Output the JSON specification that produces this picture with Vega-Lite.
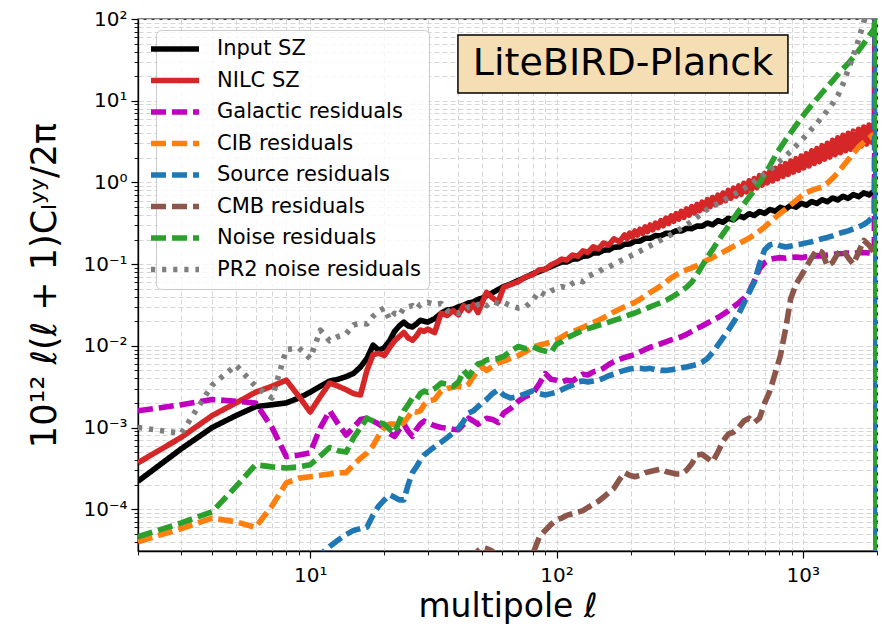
{
  "$schema": "https://vega.github.io/schema/vega-lite/v6.json",
  "width": 739,
  "height": 532,
  "autosize": {"type": "none"},
  "padding": {"left": 138, "top": 19, "right": 11, "bottom": 79},
  "background": "white",
  "config": {
    "font": "DejaVu Sans",
    "view": {"stroke": "black", "strokeWidth": 1.3},
    "axis": {
      "grid": true,
      "gridColor": "#d6d6d6",
      "gridDash": [5, 3],
      "gridWidth": 1,
      "domainColor": "black",
      "domainWidth": 1.3,
      "tickColor": "black",
      "labelFont": "DejaVu Sans",
      "labelFontSize": 20,
      "labelColor": "black",
      "labelOverlap": false,
      "labelFlush": false,
      "titleFont": "DejaVu Sans",
      "titleFontSize": 33,
      "titleFontWeight": "normal",
      "titleColor": "black"
    },
    "legend": {
      "orient": "none",
      "legendX": 18,
      "legendY": 11,
      "padding": 8,
      "fillColor": "rgba(255,255,255,0.8)",
      "strokeColor": "#cccccc",
      "cornerRadius": 5,
      "labelFont": "DejaVu Sans",
      "labelFontSize": 21,
      "labelColor": "black",
      "labelLimit": 400,
      "symbolType": "M-3,0H3",
      "symbolSize": 256,
      "labelOffset": 31,
      "rowPadding": 7.5
    }
  },
  "data": {
    "values": [
      {"l": 2, "a": 2.2e-4, "b": 3.7e-4, "g": 1.6e-3, "c": 4.0e-5, "s": 1e-6, "m": 1e-6, "n": 4.6e-5, "p": 1.0e-3},
      {"l": 3, "a": 5.5e-4, "b": 7.6e-4, "g": 1.9e-3, "c": 5.8e-5, "s": 1e-6, "m": 1e-6, "n": 6.8e-5, "p": 8.5e-4},
      {"l": 4, "a": 1.0e-3, "b": 1.4e-3, "g": 2.2e-3, "c": 7.8e-5, "s": 1e-6, "m": 1e-6, "n": 9.3e-5, "p": 3.3e-3},
      {"l": 5, "a": 1.4e-3, "b": 2.0e-3, "g": 2.1e-3, "c": 7.0e-5, "s": 1e-6, "m": 1e-6, "n": 1.9e-4, "p": 5.8e-3},
      {"l": 6, "a": 1.8e-3, "b": 2.7e-3, "g": 2.0e-3, "c": 6.0e-5, "s": 1e-6, "m": 1e-6, "n": 3.5e-4, "p": 3.2e-3},
      {"l": 7, "a": 1.9e-3, "b": 3.2e-3, "g": 1.0e-3, "c": 1.1e-4, "s": 1e-6, "m": 1e-6, "n": 3.3e-4, "p": 2.3e-3},
      {"l": 8, "a": 2.0e-3, "b": 3.8e-3, "g": 4.4e-4, "c": 2.1e-4, "s": 1e-6, "m": 1e-6, "n": 3.2e-4, "p": 9.0e-3},
      {"l": 9, "a": 2.3e-3, "b": 2.4e-3, "g": 4.6e-4, "c": 2.4e-4, "s": 1e-6, "m": 1e-6, "n": 3.3e-4, "p": 9.4e-3},
      {"l": 10, "a": 2.7e-3, "b": 1.55e-3, "g": 4.9e-4, "c": 2.5e-4, "s": 1.5e-5, "m": 1e-6, "n": 3.5e-4, "p": 7.0e-3},
      {"l": 11, "a": 3.2e-3, "b": 2.4e-3, "g": 1.0e-3, "c": 2.6e-4, "s": 2.8e-5, "m": 1e-6, "n": 4.5e-4, "p": 1.55e-2},
      {"l": 12, "a": 3.7e-3, "b": 3.5e-3, "g": 1.6e-3, "c": 2.7e-4, "s": 3.5e-5, "m": 1e-6, "n": 5.7e-4, "p": 1.15e-2},
      {"l": 13, "a": 3.9e-3, "b": 3.2e-3, "g": 1.1e-3, "c": 2.8e-4, "s": 4.2e-5, "m": 1e-6, "n": 5.2e-4, "p": 1.3e-2},
      {"l": 14, "a": 4.2e-3, "b": 2.9e-3, "g": 8.1e-4, "c": 2.8e-4, "s": 4.9e-5, "m": 1e-6, "n": 5.0e-4, "p": 1.4e-2},
      {"l": 15, "a": 4.6e-3, "b": 2.6e-3, "g": 1.0e-3, "c": 3.5e-4, "s": 5.5e-5, "m": 1e-6, "n": 7.5e-4, "p": 1.8e-2},
      {"l": 16, "a": 5.5e-3, "b": 2.5e-3, "g": 1.25e-3, "c": 4.2e-4, "s": 5.8e-5, "m": 1e-6, "n": 1.0e-3, "p": 1.9e-2},
      {"l": 17, "a": 7.0e-3, "b": 5.0e-3, "g": 1.3e-3, "c": 4.9e-4, "s": 6.0e-5, "m": 1e-6, "n": 1.3e-3, "p": 1.85e-2},
      {"l": 18, "a": 1.02e-2, "b": 7.8e-3, "g": 1.2e-3, "c": 6.0e-4, "s": 8.5e-5, "m": 1e-6, "n": 1.2e-3, "p": 2.3e-2},
      {"l": 19, "a": 8.8e-3, "b": 8.1e-3, "g": 1.1e-3, "c": 8.0e-4, "s": 1.1e-4, "m": 1e-6, "n": 1.15e-3, "p": 2.65e-2},
      {"l": 20, "a": 9.5e-3, "b": 7.6e-3, "g": 1.0e-3, "c": 1.0e-3, "s": 1.3e-4, "m": 1e-6, "n": 1.1e-3, "p": 2.9e-2},
      {"l": 21, "a": 1.15e-2, "b": 9.5e-3, "g": 8.5e-4, "c": 1.1e-3, "s": 1.5e-4, "m": 1e-6, "n": 9.5e-4, "p": 2.1e-2},
      {"l": 22, "a": 1.5e-2, "b": 1.15e-2, "g": 7.8e-4, "c": 1.1e-3, "s": 1.4e-4, "m": 1e-6, "n": 8.6e-4, "p": 2.5e-2},
      {"l": 23, "a": 1.75e-2, "b": 1.3e-2, "g": 9.5e-4, "c": 1.05e-3, "s": 1.3e-4, "m": 1e-6, "n": 1.2e-3, "p": 2.35e-2},
      {"l": 24, "a": 1.95e-2, "b": 1.46e-2, "g": 1.1e-3, "c": 1.15e-3, "s": 1.3e-4, "m": 1e-6, "n": 1.6e-3, "p": 2.9e-2},
      {"l": 25, "a": 1.75e-2, "b": 1.25e-2, "g": 9.0e-4, "c": 1.35e-3, "s": 2.0e-4, "m": 1e-6, "n": 1.9e-3, "p": 3.0e-2},
      {"l": 26, "a": 1.7e-2, "b": 1.17e-2, "g": 7.8e-4, "c": 1.6e-3, "s": 2.8e-4, "m": 1e-6, "n": 2.3e-3, "p": 3.1e-2},
      {"l": 27, "a": 1.85e-2, "b": 1.32e-2, "g": 9.5e-4, "c": 1.55e-3, "s": 3.3e-4, "m": 1e-6, "n": 2.2e-3, "p": 2.8e-2},
      {"l": 28, "a": 2.05e-2, "b": 1.56e-2, "g": 1.1e-3, "c": 1.6e-3, "s": 4.0e-4, "m": 1e-6, "n": 2.6e-3, "p": 3.2e-2},
      {"l": 29, "a": 2.0e-2, "b": 1.5e-2, "g": 1.2e-3, "c": 1.9e-3, "s": 4.6e-4, "m": 1e-6, "n": 2.8e-3, "p": 3.3e-2},
      {"l": 30, "a": 1.95e-2, "b": 1.6e-2, "g": 1.15e-3, "c": 2.1e-3, "s": 5.0e-4, "m": 1e-6, "n": 2.7e-3, "p": 3.4e-2},
      {"l": 32, "a": 2.15e-2, "b": 1.45e-2, "g": 1.05e-3, "c": 2.2e-3, "s": 5.8e-4, "m": 1e-6, "n": 3.0e-3, "p": 3.2e-2},
      {"l": 34, "a": 2.5e-2, "b": 2.5e-2, "g": 1.0e-3, "c": 2.8e-3, "s": 6.6e-4, "m": 1e-6, "n": 3.5e-3, "p": 3.3e-2},
      {"l": 36, "a": 2.75e-2, "b": 2.35e-2, "g": 9.8e-4, "c": 3.0e-3, "s": 7.5e-4, "m": 1e-6, "n": 3.4e-3, "p": 2.7e-2},
      {"l": 38, "a": 2.8e-2, "b": 2.7e-2, "g": 9.5e-4, "c": 3.1e-3, "s": 8.6e-4, "m": 1e-6, "n": 3.2e-3, "p": 2.6e-2},
      {"l": 40, "a": 3.0e-2, "b": 2.4e-2, "g": 9.4e-4, "c": 3.2e-3, "s": 9.8e-4, "m": 1e-6, "n": 3.6e-3, "p": 2.5e-2},
      {"l": 42, "a": 3.15e-2, "b": 3.1e-2, "g": 1.1e-3, "c": 3.1e-3, "s": 1.2e-3, "m": 1e-6, "n": 5.0e-3, "p": 2.7e-2},
      {"l": 44, "a": 3.35e-2, "b": 2.7e-2, "g": 1.3e-3, "c": 3.4e-3, "s": 1.5e-3, "m": 1e-6, "n": 4.2e-3, "p": 3.0e-2},
      {"l": 46, "a": 3.45e-2, "b": 3.2e-2, "g": 1.2e-3, "c": 4.2e-3, "s": 1.6e-3, "m": 2.5e-5, "n": 5.2e-3, "p": 2.9e-2},
      {"l": 48, "a": 3.7e-2, "b": 2.55e-2, "g": 1.1e-3, "c": 5.0e-3, "s": 1.8e-3, "m": 3.1e-5, "n": 6.0e-3, "p": 3.2e-2},
      {"l": 50, "a": 3.85e-2, "b": 3.4e-2, "g": 1.2e-3, "c": 5.5e-3, "s": 2.0e-3, "m": 3.4e-5, "n": 6.2e-3, "p": 3.4e-2},
      {"l": 52, "a": 4.1e-2, "b": 4.5e-2, "g": 1.3e-3, "c": 5.0e-3, "s": 2.2e-3, "m": 3.3e-5, "n": 6.7e-3, "p": 3.1e-2},
      {"l": 55, "a": 4.45e-2, "b": 3.85e-2, "g": 1.25e-3, "c": 5.6e-3, "s": 2.6e-3, "m": 3.05e-5, "n": 6.9e-3, "p": 3.5e-2},
      {"l": 58, "a": 4.9e-2, "b": 3.45e-2, "g": 1.15e-3, "c": 6.2e-3, "s": 2.9e-3, "m": 2.0e-5, "n": 7.0e-3, "p": 3.3e-2},
      {"l": 61, "a": 5.3e-2, "b": 5.2e-2, "g": 1.5e-3, "c": 6.5e-3, "s": 2.5e-3, "m": 1.5e-5, "n": 7.4e-3, "p": 3.4e-2},
      {"l": 65, "a": 5.7e-2, "b": 5.6e-2, "g": 1.7e-3, "c": 7.0e-3, "s": 2.3e-3, "m": 1.5e-5, "n": 8.6e-3, "p": 3.1e-2},
      {"l": 70, "a": 6.3e-2, "b": 6.1e-2, "g": 2.1e-3, "c": 7.6e-3, "s": 2.4e-3, "m": 1.5e-5, "n": 9.8e-3, "p": 2.9e-2},
      {"l": 75, "a": 6.9e-2, "b": 7.0e-2, "g": 2.4e-3, "c": 8.5e-3, "s": 2.6e-3, "m": 1.5e-5, "n": 9.2e-3, "p": 3.0e-2},
      {"l": 80, "a": 7.6e-2, "b": 7.4e-2, "g": 2.6e-3, "c": 9.6e-3, "s": 2.8e-3, "m": 2.8e-5, "n": 9.8e-3, "p": 3.6e-2},
      {"l": 85, "a": 8.1e-2, "b": 8.5e-2, "g": 3.4e-3, "c": 1.02e-2, "s": 2.6e-3, "m": 4.5e-5, "n": 9.0e-3, "p": 4.6e-2},
      {"l": 90, "a": 8.7e-2, "b": 8.6e-2, "g": 4.6e-3, "c": 1.06e-2, "s": 2.5e-3, "m": 5.5e-5, "n": 8.6e-3, "p": 4.2e-2},
      {"l": 95, "a": 9.3e-2, "b": 9.8e-2, "g": 3.9e-3, "c": 1.12e-2, "s": 2.6e-3, "m": 6.5e-5, "n": 8.3e-3, "p": 4.7e-2},
      {"l": 100, "a": 0.100, "b": 0.105, "g": 3.8e-3, "c": 1.18e-2, "s": 2.7e-3, "m": 7.4e-5, "n": 1.05e-2, "p": 5.0e-2},
      {"l": 105, "a": 0.106, "b": 0.115, "g": 3.6e-3, "c": 0.0128, "s": 2.9e-3, "m": 7.8e-5, "n": 0.0112, "p": 0.053},
      {"l": 110, "a": 0.106, "b": 0.112, "g": 3.8e-3, "c": 0.0140, "s": 3.1e-3, "m": 8.4e-5, "n": 0.0125, "p": 0.051},
      {"l": 116, "a": 0.115, "b": 0.129, "g": 3.7e-3, "c": 0.0148, "s": 3.3e-3, "m": 8.8e-5, "n": 0.0135, "p": 0.058},
      {"l": 122, "a": 0.116, "b": 0.125, "g": 4.1e-3, "c": 0.0158, "s": 3.6e-3, "m": 9.2e-5, "n": 0.0145, "p": 0.063},
      {"l": 128, "a": 0.125, "b": 0.145, "g": 4.5e-3, "c": 0.0168, "s": 3.7e-3, "m": 9.6e-5, "n": 0.0155, "p": 0.061},
      {"l": 134, "a": 0.126, "b": 0.139, "g": 4.4e-3, "c": 0.0180, "s": 3.6e-3, "m": 1.05e-4, "n": 0.0162, "p": 0.070},
      {"l": 141, "a": 0.137, "b": 0.163, "g": 4.8e-3, "c": 0.0192, "s": 3.7e-3, "m": 1.15e-4, "n": 0.0170, "p": 0.076},
      {"l": 148, "a": 0.137, "b": 0.153, "g": 5.0e-3, "c": 0.0205, "s": 3.8e-3, "m": 1.25e-4, "n": 0.0178, "p": 0.080},
      {"l": 155, "a": 0.148, "b": 0.181, "g": 5.3e-3, "c": 0.0220, "s": 4.0e-3, "m": 1.4e-4, "n": 0.0186, "p": 0.088},
      {"l": 163, "a": 0.149, "b": 0.171, "g": 5.9e-3, "c": 0.0240, "s": 4.3e-3, "m": 1.6e-4, "n": 0.0195, "p": 0.092},
      {"l": 171, "a": 0.161, "b": 0.204, "g": 6.4e-3, "c": 0.0260, "s": 4.5e-3, "m": 1.8e-4, "n": 0.0205, "p": 0.100},
      {"l": 180, "a": 0.162, "b": 0.188, "g": 6.8e-3, "c": 0.0280, "s": 4.8e-3, "m": 2.3e-4, "n": 0.0215, "p": 0.108},
      {"l": 189, "a": 0.175, "b": 0.228, "g": 7.2e-3, "c": 0.0300, "s": 5.0e-3, "m": 2.8e-4, "n": 0.0228, "p": 0.116},
      {"l": 193.4, "b": 0.204},
      {"l": 198, "a": 0.176, "b": 0.240, "g": 7.5e-3, "c": 0.0320, "s": 5.2e-3, "m": 2.6e-4, "n": 0.0240, "p": 0.124},
      {"l": 203, "b": 0.215},
      {"l": 208, "a": 0.190, "b": 0.254, "g": 7.8e-3, "c": 0.0340, "s": 5.3e-3, "m": 2.5e-4, "n": 0.0252, "p": 0.134},
      {"l": 213, "b": 0.227},
      {"l": 218, "a": 0.191, "b": 0.267, "g": 8.4e-3, "c": 0.0370, "s": 5.3e-3, "m": 2.6e-4, "n": 0.0268, "p": 0.144},
      {"l": 223.4, "b": 0.237},
      {"l": 229, "a": 0.207, "b": 0.286, "g": 9.0e-3, "c": 0.0410, "s": 5.2e-3, "m": 2.8e-4, "n": 0.0282, "p": 0.156},
      {"l": 234.4, "b": 0.250},
      {"l": 240, "a": 0.207, "b": 0.301, "g": 9.6e-3, "c": 0.0450, "s": 5.3e-3, "m": 2.9e-4, "n": 0.0300, "p": 0.168},
      {"l": 246, "b": 0.263},
      {"l": 252, "a": 0.223, "b": 0.318, "g": 0.0101, "c": 0.0490, "s": 5.1e-3, "m": 3.0e-4, "n": 0.0318, "p": 0.182},
      {"l": 258.4, "b": 0.280},
      {"l": 265, "a": 0.222, "b": 0.340, "g": 0.0106, "c": 0.0540, "s": 5.0e-3, "m": 3.1e-4, "n": 0.0338, "p": 0.197},
      {"l": 271.4, "b": 0.295},
      {"l": 278, "a": 0.238, "b": 0.366, "g": 0.0112, "c": 0.0600, "s": 5.0e-3, "m": 2.9e-4, "n": 0.0360, "p": 0.213},
      {"l": 285, "b": 0.314},
      {"l": 292, "a": 0.238, "b": 0.389, "g": 0.0118, "c": 0.0680, "s": 5.1e-3, "m": 2.8e-4, "n": 0.0390, "p": 0.230},
      {"l": 299, "b": 0.334},
      {"l": 306, "a": 0.256, "b": 0.414, "g": 0.0123, "c": 0.0740, "s": 5.2e-3, "m": 2.7e-4, "n": 0.0425, "p": 0.250},
      {"l": 313.4, "b": 0.355},
      {"l": 321, "a": 0.254, "b": 0.441, "g": 0.0129, "c": 0.0800, "s": 5.4e-3, "m": 2.7e-4, "n": 0.0470, "p": 0.275},
      {"l": 329, "b": 0.373},
      {"l": 337, "a": 0.273, "b": 0.474, "g": 0.0138, "c": 0.0850, "s": 5.5e-3, "m": 3.0e-4, "n": 0.0520, "p": 0.302},
      {"l": 345.4, "b": 0.398},
      {"l": 354, "a": 0.272, "b": 0.505, "g": 0.0150, "c": 0.0900, "s": 5.7e-3, "m": 3.6e-4, "n": 0.0600, "p": 0.335},
      {"l": 362.9, "b": 0.424},
      {"l": 372, "a": 0.292, "b": 0.538, "g": 0.0163, "c": 0.0960, "s": 5.9e-3, "m": 4.6e-4, "n": 0.0750, "p": 0.375},
      {"l": 380.9, "b": 0.451},
      {"l": 390, "a": 0.291, "b": 0.572, "g": 0.0175, "c": 0.104, "s": 6.3e-3, "m": 4.7e-4, "n": 0.0950, "p": 0.420},
      {"l": 399.9, "b": 0.474},
      {"l": 410, "a": 0.318, "b": 0.617, "g": 0.0190, "c": 0.112, "s": 7.0e-3, "m": 4.2e-4, "n": 0.122, "p": 0.470},
      {"l": 420, "b": 0.505},
      {"l": 430, "a": 0.303, "b": 0.653, "g": 0.0205, "c": 0.120, "s": 8.3e-3, "m": 3.8e-4, "n": 0.150, "p": 0.510},
      {"l": 440.9, "b": 0.536},
      {"l": 452, "a": 0.340, "b": 0.697, "g": 0.0222, "c": 0.130, "s": 0.0102, "m": 5.0e-4, "n": 0.190, "p": 0.550},
      {"l": 462.9, "b": 0.572},
      {"l": 474, "a": 0.325, "b": 0.741, "g": 0.0243, "c": 0.140, "s": 0.0125, "m": 6.8e-4, "n": 0.235, "p": 0.600},
      {"l": 485.9, "b": 0.600},
      {"l": 498, "a": 0.364, "b": 0.798, "g": 0.0268, "c": 0.152, "s": 0.0155, "m": 8.3e-4, "n": 0.290, "p": 0.650},
      {"l": 510.4, "b": 0.640},
      {"l": 523, "a": 0.348, "b": 0.851, "g": 0.0300, "c": 0.165, "s": 0.0195, "m": 8.8e-4, "n": 0.360, "p": 0.710},
      {"l": 535.9, "b": 0.681},
      {"l": 549, "a": 0.390, "b": 0.906, "g": 0.0335, "c": 0.178, "s": 0.0245, "m": 1.0e-3, "n": 0.445, "p": 0.770},
      {"l": 562.3, "b": 0.716},
      {"l": 576, "a": 0.371, "b": 0.975, "g": 0.0380, "c": 0.192, "s": 0.033, "m": 1.2e-3, "n": 0.540, "p": 0.840},
      {"l": 590.3, "b": 0.766},
      {"l": 605, "a": 0.414, "b": 1.047, "g": 0.0460, "c": 0.208, "s": 0.045, "m": 1.3e-3, "n": 0.660, "p": 0.920},
      {"l": 619.8, "b": 0.820},
      {"l": 635, "a": 0.394, "b": 1.117, "g": 0.0620, "c": 0.228, "s": 0.060, "m": 1.15e-3, "n": 0.800, "p": 1.02},
      {"l": 650.8, "b": 0.865},
      {"l": 667, "a": 0.440, "b": 1.208, "g": 0.0880, "c": 0.255, "s": 0.100, "m": 1.3e-3, "n": 0.990, "p": 1.14},
      {"l": 683.3, "b": 0.925},
      {"l": 700, "a": 0.418, "b": 1.288, "g": 0.104, "c": 0.285, "s": 0.150, "m": 2.0e-3, "n": 1.25, "p": 1.28},
      {"l": 717.3, "b": 0.986},
      {"l": 735, "a": 0.466, "b": 1.374, "g": 0.114, "c": 0.325, "s": 0.172, "m": 2.8e-3, "n": 1.60, "p": 1.42},
      {"l": 753.3, "b": 1.040},
      {"l": 772, "a": 0.444, "b": 1.486, "g": 0.118, "c": 0.370, "s": 0.178, "m": 4.6e-3, "n": 2.10, "p": 1.62},
      {"l": 790.8, "b": 1.109},
      {"l": 810, "a": 0.494, "b": 1.581, "g": 0.120, "c": 0.420, "s": 0.168, "m": 7.5e-3, "n": 2.65, "p": 1.85},
      {"l": 830.2, "b": 1.186},
      {"l": 851, "a": 0.470, "b": 1.694, "g": 0.118, "c": 0.470, "s": 0.162, "m": 0.016, "n": 3.30, "p": 2.10},
      {"l": 871.7, "b": 1.253},
      {"l": 893, "a": 0.524, "b": 1.828, "g": 0.121, "c": 0.530, "s": 0.166, "m": 0.038, "n": 4.05, "p": 2.40},
      {"l": 915.2, "b": 1.337},
      {"l": 938, "a": 0.498, "b": 1.950, "g": 0.122, "c": 0.600, "s": 0.172, "m": 0.057, "n": 5.00, "p": 2.80},
      {"l": 961.2, "b": 1.409},
      {"l": 985, "a": 0.556, "b": 2.104, "g": 0.120, "c": 0.680, "s": 0.176, "m": 0.072, "n": 6.10, "p": 3.25},
      {"l": 1009.2, "b": 1.507},
      {"l": 1034, "a": 0.526, "b": 2.249, "g": 0.123, "c": 0.750, "s": 0.182, "m": 0.093, "n": 7.40, "p": 3.80},
      {"l": 1059.7, "b": 1.592},
      {"l": 1086, "a": 0.584, "b": 2.432, "g": 0.125, "c": 0.800, "s": 0.188, "m": 0.120, "n": 8.90, "p": 4.50},
      {"l": 1112.7, "b": 1.702},
      {"l": 1140, "a": 0.552, "b": 2.600, "g": 0.127, "c": 0.840, "s": 0.196, "m": 0.150, "n": 10.5, "p": 5.30},
      {"l": 1168.2, "b": 1.799},
      {"l": 1197, "a": 0.614, "b": 2.818, "g": 0.126, "c": 0.880, "s": 0.204, "m": 0.140, "n": 12.5, "p": 6.30},
      {"l": 1226.6, "b": 1.928},
      {"l": 1257, "a": 0.580, "b": 3.013, "g": 0.129, "c": 0.980, "s": 0.212, "m": 0.095, "n": 14.8, "p": 7.60},
      {"l": 1288.1, "b": 2.042},
      {"l": 1320, "a": 0.645, "b": 3.273, "g": 0.131, "c": 1.12, "s": 0.222, "m": 0.105, "n": 17.5, "p": 9.20},
      {"l": 1352.6, "b": 2.188},
      {"l": 1386, "a": 0.609, "b": 3.508, "g": 0.134, "c": 1.32, "s": 0.235, "m": 0.135, "n": 20.8, "p": 11.5},
      {"l": 1420.1, "b": 2.307},
      {"l": 1455, "a": 0.676, "b": 3.776, "g": 0.135, "c": 1.58, "s": 0.245, "m": 0.150, "n": 24.5, "p": 16},
      {"l": 1491.1, "b": 2.443},
      {"l": 1528, "a": 0.638, "b": 3.981, "g": 0.137, "c": 1.90, "s": 0.255, "m": 0.120, "n": 28.5, "p": 24},
      {"l": 1565.5, "b": 2.547},
      {"l": 1604, "a": 0.709, "b": 4.236, "g": 0.136, "c": 2.28, "s": 0.270, "m": 0.100, "n": 34, "p": 36},
      {"l": 1643.6, "b": 2.679},
      {"l": 1684, "a": 0.670, "b": 4.467, "g": 0.138, "c": 2.70, "s": 0.285, "m": 0.140, "n": 41, "p": 56},
      {"l": 1725.5, "b": 2.793},
      {"l": 1768, "a": 0.744, "b": 4.764, "g": 0.139, "c": 3.10, "s": 0.305, "m": 0.195, "n": 50, "p": 92},
      {"l": 1812, "b": 2.951},
      {"l": 1857, "a": 0.704, "b": 5.035, "g": 0.137, "c": 3.50, "s": 0.340, "m": 0.170, "n": 62, "p": 150},
      {"l": 1903, "b": 3.112},
      {"l": 1950, "a": 0.781, "b": 5.297, "g": 0.135, "c": 3.90, "s": 0.400, "m": 0.137, "n": 76, "p": 250},
      {"l": 1980, "b": 1e4, "g": 1e4, "s": 1e4, "n": 1e4},
      {"l": 1988, "b": 1e-9, "g": 1e-9, "s": 1e-9, "n": 1e-9}
    ]
  },
  "layer": [
    {
      "transform": [
        {"fold": ["a", "b", "g", "c", "s", "m", "n", "p"], "as": ["k", "v"]},
        {"filter": "isValid(datum.v)"}
      ],
      "mark": {"type": "line", "clip": true, "strokeCap": "butt", "strokeJoin": "round"},
      "encoding": {
        "x": {
          "field": "l",
          "type": "quantitative",
          "scale": {"type": "log", "domain": [2, 2000], "nice": false},
          "axis": {
            "title": "multipole ℓ",
            "titlePadding": 5,
            "labelPadding": 7,
            "values": [2, 3, 4, 5, 6, 7, 8, 9, 10, 20, 30, 40, 50, 60, 70, 80, 90, 100, 200, 300, 400, 500, 600, 700, 800, 900, 1000, 2000],
            "labelExpr": "datum.value == 10 ? '10¹' : datum.value == 100 ? '10²' : datum.value == 1000 ? '10³' : ''",
            "tickSize": {"condition": {"test": "datum.value == 10 || datum.value == 100 || datum.value == 1000", "value": 7}, "value": 4},
            "tickWidth": {"condition": {"test": "datum.value == 10 || datum.value == 100 || datum.value == 1000", "value": 1.2}, "value": 0.9}
          }
        },
        "y": {
          "field": "v",
          "type": "quantitative",
          "scale": {"type": "log", "domain": [3.08e-5, 100], "nice": false},
          "axis": {
            "title": "10¹² ℓ(ℓ + 1)Cₗʸʸ/2π",
            "titleFontSize": 35,
            "titlePadding": 20,
            "labelPadding": 4,
            "values": [4e-5, 5e-5, 6e-5, 7e-5, 8e-5, 9e-5, 1e-4, 2e-4, 3e-4, 4e-4, 5e-4, 6e-4, 7e-4, 8e-4, 9e-4, 1e-3, 2e-3, 3e-3, 4e-3, 5e-3, 6e-3, 7e-3, 8e-3, 9e-3, 0.01, 0.02, 0.03, 0.04, 0.05, 0.06, 0.07, 0.08, 0.09, 0.1, 0.2, 0.3, 0.4, 0.5, 0.6, 0.7, 0.8, 0.9, 1, 2, 3, 4, 5, 6, 7, 8, 9, 10, 20, 30, 40, 50, 60, 70, 80, 90, 100],
            "labelExpr": "abs(log(datum.value)/LN10 - round(log(datum.value)/LN10)) < 0.001 ? '10' + ['⁻⁴','⁻³','⁻²','⁻¹','⁰','¹','²'][round(log(datum.value)/LN10) + 4] : ''",
            "tickSize": {"condition": {"test": "abs(log(datum.value)/LN10 - round(log(datum.value)/LN10)) < 0.001", "value": 7}, "value": 4},
            "tickWidth": {"condition": {"test": "abs(log(datum.value)/LN10 - round(log(datum.value)/LN10)) < 0.001", "value": 1.2}, "value": 0.9}
          }
        },
        "color": {
          "field": "k",
          "type": "nominal",
          "scale": {
            "domain": ["a", "b", "g", "c", "s", "m", "n", "p"],
            "range": ["#000000", "#d62728", "#bf00bf", "#ff7f0e", "#1f77b4", "#8c564b", "#2ca02c", "#7f7f7f"]
          },
          "legend": {
            "title": null,
            "labelExpr": "datum.label == 'a' ? 'Input SZ' : datum.label == 'b' ? 'NILC SZ' : datum.label == 'g' ? 'Galactic residuals' : datum.label == 'c' ? 'CIB residuals' : datum.label == 's' ? 'Source residuals' : datum.label == 'm' ? 'CMB residuals' : datum.label == 'n' ? 'Noise residuals' : 'PR2 noise residuals'"
          }
        },
        "strokeDash": {
          "field": "k",
          "type": "nominal",
          "scale": {
            "domain": ["a", "b", "g", "c", "s", "m", "n", "p"],
            "range": [[1, 0], [1, 0], [15, 6], [15, 6], [15, 6], [15, 6], [15, 6], [4.2, 6.9]]
          },
          "legend": {
            "title": null,
            "labelExpr": "datum.label == 'a' ? 'Input SZ' : datum.label == 'b' ? 'NILC SZ' : datum.label == 'g' ? 'Galactic residuals' : datum.label == 'c' ? 'CIB residuals' : datum.label == 's' ? 'Source residuals' : datum.label == 'm' ? 'CMB residuals' : datum.label == 'n' ? 'Noise residuals' : 'PR2 noise residuals'"
          }
        },
        "strokeWidth": {
          "field": "k",
          "type": "nominal",
          "scale": {
            "domain": ["a", "b", "g", "c", "s", "m", "n", "p"],
            "range": [5.6, 5.6, 4.2, 4.2, 4.2, 4.2, 4.2, 4.2]
          },
          "legend": {
            "title": null,
            "labelExpr": "datum.label == 'a' ? 'Input SZ' : datum.label == 'b' ? 'NILC SZ' : datum.label == 'g' ? 'Galactic residuals' : datum.label == 'c' ? 'CIB residuals' : datum.label == 's' ? 'Source residuals' : datum.label == 'm' ? 'CMB residuals' : datum.label == 'n' ? 'Noise residuals' : 'PR2 noise residuals'"
          }
        }
      }
    },
    {
      "data": {"values": [{}]},
      "mark": {"type": "rect", "fill": "#f5deb3", "stroke": "black", "strokeWidth": 1.5},
      "encoding": {
        "x": {"datum": 39.8, "type": "quantitative", "scale": {"type": "log", "domain": [2, 2000], "nice": false}},
        "x2": {"datum": 870},
        "y": {"datum": 63.7, "type": "quantitative", "scale": {"type": "log", "domain": [3.08e-5, 100], "nice": false}},
        "y2": {"datum": 12.43}
      }
    },
    {
      "data": {"values": [{}]},
      "mark": {"type": "text", "font": "DejaVu Sans", "fontSize": 38, "color": "black", "align": "center", "baseline": "middle"},
      "encoding": {
        "x": {"datum": 186.2, "type": "quantitative", "scale": {"type": "log", "domain": [2, 2000], "nice": false}},
        "y": {"datum": 28.1, "type": "quantitative", "scale": {"type": "log", "domain": [3.08e-5, 100], "nice": false}},
        "text": {"value": "LiteBIRD-Planck"}
      }
    }
  ]
}
